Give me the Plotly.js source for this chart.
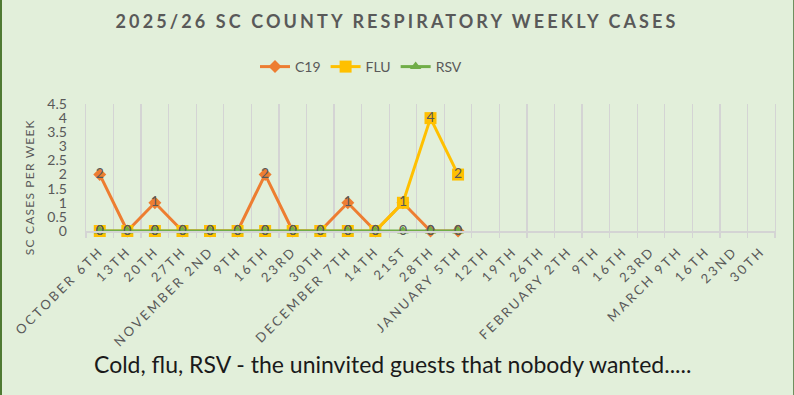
<!DOCTYPE html>
<html>
<head>
<meta charset="utf-8">
<script src="https://cdn.plot.ly/plotly-3.0.1.min.js"></script>
<style>
  html, body { margin:0; padding:0; background:#e2efda; }
  #wrap { position:relative; width:794px; height:395px; overflow:hidden; }
  #chart { width:794px; height:395px; }
  .bl { position:absolute; left:0; top:0; width:2px; height:395px; background:#4f7a33; }
  .br { position:absolute; right:0; top:0; width:1px; height:395px; background:#6f8f5f; }
  .xtick text { letter-spacing:2.6px; }
  .gtitle { letter-spacing:3.1px; }
  g.annotation[data-index="0"] text { letter-spacing:1.2px; }
</style>
</head>
<body>
<div id="wrap">
  <div id="chart"></div>
  <div class="bl"></div>
  <div class="br"></div>
</div>
<script>
const weekLabels = ["OCTOBER 6TH","13TH","20TH","27TH","NOVEMBER 2ND","9TH","16TH","23RD","30TH",
  "DECEMBER 7TH","14TH","21ST","28TH","JANUARY 5TH","12TH","19TH","26TH","FEBRUARY 2TH",
  "9TH","16TH","23RD","MARCH 9TH","16TH","23ND","30TH"];
const c19 = [2,0,1,0,0,0,2,0,0,1,0,1,0,0];
const flu = [0,0,0,0,0,0,0,0,0,0,0,1,4,2];
const rsv = [0,0,0,0,0,0,0,0,0,0,0,0,0,0];
const yTicks = [0,0.5,1,1.5,2,2.5,3,3.5,4,4.5];

const FONT = "Lato, 'Open Sans', sans-serif";
const labelFont = {family:FONT, size:14, color:"#595959"};

const weekIdx = weekLabels.map((_, i) => i);
const alias = {};
weekIdx.forEach(i => { alias[String(i)] = weekLabels[i]; });

function series(name, vals, color, symbol, msize) {
  return {
    type:"scatter", mode:"lines+markers+text", name:name,
    x: vals.map((_, i) => weekIdx[i]), y: vals,
    text: vals.map(String), textposition:"middle center", textfont: labelFont,
    line:{color:color, width:3},
    marker:{color:color, symbol:symbol, size:msize, line:{width:0}},
    hoverinfo:"skip", cliponaxis:false
  };
}

const data = [
  series("C19", c19, "#ed7d31", "diamond", 10),
  series("FLU", flu, "#ffc000", "square", 12),
  series("RSV", rsv, "#70ad47", "triangle-up", 10)
];

const L = 86, R = 19, T = 104, B = 164;
const pw = 794 - L - R, ph = 395 - T - B;
const px = v => (v - L) / pw;
const py = v => (395 - B - v) / ph;
const GRID = "#d4d4d4";

const layout = {
  width:794, height:395,
  paper_bgcolor:"#e2efda", plot_bgcolor:"#e2efda",
  margin:{l:L, r:R, t:T, b:B, pad:0},
  showlegend:true,
  title:{
    text:"<b>2025/26 SC COUNTY RESPIRATORY WEEKLY CASES</b>",
    font:{family:FONT, size:18, color:"#595959"},
    x:0.5, xanchor:"center", xref:"container",
    y:1 - 22/395, yanchor:"middle", yref:"container"
  },
  legend:{
    orientation:"h", x:px(361), xanchor:"center", y:py(67), yanchor:"middle",
    font:{family:FONT, size:14, color:"#595959"},
    bgcolor:"rgba(0,0,0,0)", itemwidth:30, tracegroupgap:0
  },
  xaxis:{
    type:"linear", range:[-0.5, weekLabels.length - 0.5],
    tickmode:"linear", tick0:0, dtick:1, labelalias:alias, tickangle:-45,
    tickfont:{family:FONT, size:13, color:"#595959"},
    ticks:"", showgrid:false,
    minor:{tickmode:"linear", tick0:-0.5, dtick:1, showgrid:true, gridcolor:GRID, gridwidth:1.3,
           ticks:"outside", ticklen:5, tickcolor:GRID, tickwidth:1.3},
    showline:true, linecolor:GRID, linewidth:1.5, zeroline:false,
    ticklabelstandoff:6, fixedrange:true
  },
  yaxis:{
    range:[0, 4.5], tickmode:"array", tickvals:yTicks, ticktext:yTicks.map(String),
    tickfont:{family:FONT, size:14, color:"#595959"},
    showgrid:false, zeroline:false, showline:true, mirror:true, linecolor:GRID, linewidth:1.3,
    ticks:"", ticklabelstandoff:15, fixedrange:true
  },
  annotations:[
    {
      text:"SC CASES PER WEEK", textangle:-90, showarrow:false,
      xref:"paper", yref:"paper", x:px(29), y:py(187), xanchor:"center", yanchor:"middle",
      font:{family:FONT, size:12, color:"#595959"}
    },
    {
      text:"Cold, flu, RSV - the uninvited guests that nobody wanted.....", showarrow:false,
      xref:"paper", yref:"paper", x:px(392), y:py(364), xanchor:"center", yanchor:"middle",
      font:{family:FONT, size:23, color:"#1a1a1a"}
    }
  ]
};

Plotly.newPlot("chart", data, layout, {staticPlot:true, displayModeBar:false});
</script>
</body>
</html>
